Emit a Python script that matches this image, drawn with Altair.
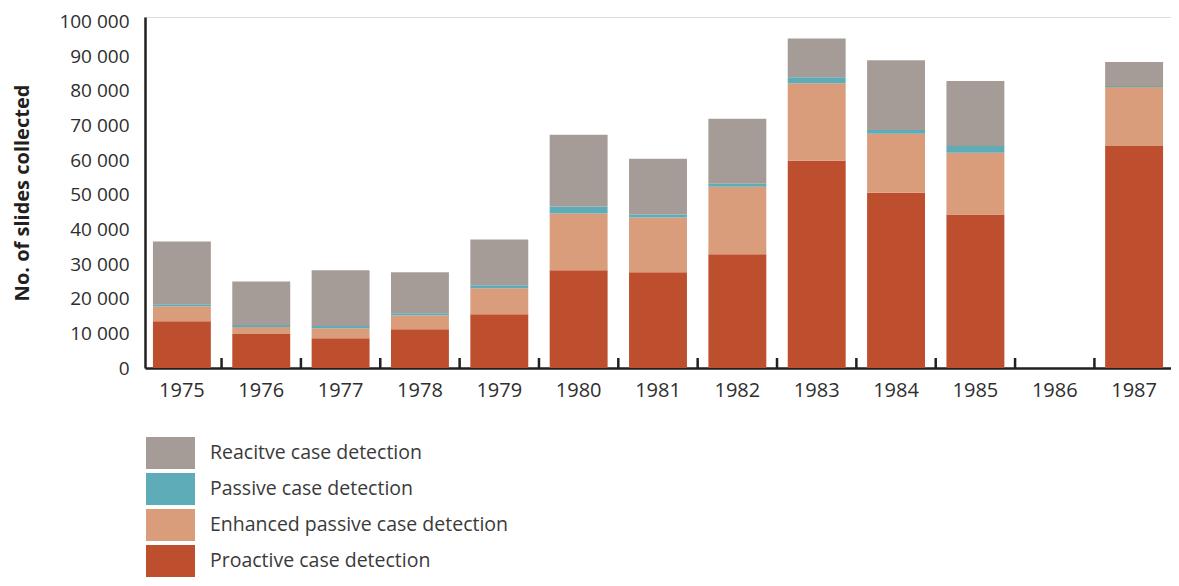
import altair as alt
import pandas as pd

years = ["1975", "1976", "1977", "1978", "1979", "1980", "1981", "1982",
         "1983", "1984", "1985", "1986", "1987"]
proactive = [13500, 9800, 8600, 11200, 15500, 28200, 27600, 32800, 59800, 50600, 44300, 0, 64100]
enhanced = [4300, 2000, 2900, 4000, 7500, 16400, 15800, 19500, 22400, 17000, 17800, 0, 17000]
passive = [600, 600, 600, 600, 900, 2000, 900, 900, 1700, 1100, 2000, 0, 300]
reactive = [18100, 12600, 16100, 11800, 13200, 20700, 16100, 18700, 11200, 20100, 18700, 0, 6900]

categories = ["Reacitve case detection", "Passive case detection",
              "Enhanced passive case detection", "Proactive case detection"]
colors = ["#a69c97", "#5eacb7", "#da9d7c", "#be4f2e"]
y_ticks = [0, 10000, 20000, 30000, 40000, 50000, 60000, 70000, 80000, 90000, 100000]

series = {
    categories[3]: proactive,
    categories[2]: enhanced,
    categories[1]: passive,
    categories[0]: reactive,
}
stack_order = {categories[3]: 0, categories[2]: 1, categories[1]: 2, categories[0]: 3}

rows = []
for cat, vals in series.items():
    for yr, v in zip(years, vals):
        rows.append({"year": yr, "cat": cat, "value": v, "ord": stack_order[cat]})
df = pd.DataFrame(rows)

AXIS_COLOR = "#231f20"
TEXT_COLOR = "#2e2e2e"
LEGEND_TEXT = "#3a3a3a"
FONT = "Open Sans"

PLOT_H = 351
x_scale = alt.Scale(paddingInner=0.27, paddingOuter=0.1)

bars = alt.Chart(df).mark_bar().encode(
    x=alt.X("year:N", sort=years, scale=x_scale,
            axis=alt.Axis(title=None, labelAngle=0, ticks=False, tickSize=0,
                          domainColor=AXIS_COLOR, domainWidth=2.5,
                          labelFontSize=20, labelColor=TEXT_COLOR, labelFont=FONT,
                          labelPadding=12)),
    y=alt.Y("value:Q", stack="zero",
            scale=alt.Scale(domain=[0, 101300], nice=False, zero=True),
            axis=alt.Axis(title="No. of slides collected", values=y_ticks,
                          labelExpr="datum.value == 0 ? '0' : format(datum.value / 1000, 'd') + ' 000'",
                          grid=False, ticks=False, tickSize=0,
                          domainColor=AXIS_COLOR, domainWidth=2.5,
                          labelFontSize=19, labelColor=TEXT_COLOR, labelFont=FONT,
                          labelPadding=16,
                          titleFont=FONT, titleFontSize=20, titleFontWeight="bold",
                          titleColor=AXIS_COLOR, titlePadding=26)),
    color=alt.Color("cat:N", title=None,
                    scale=alt.Scale(domain=categories, range=colors),
                    legend=alt.Legend(orient="none", legendX=1, legendY=420,
                                      padding=0, clipHeight=32, rowPadding=4,
                                      symbolType="M-1,-0.653L1,-0.653L1,0.653L-1,0.653Z",
                                      symbolSize=2401, symbolStrokeWidth=0,
                                      symbolOpacity=1, labelOffset=15,
                                      labelFontSize=19.5, labelFont=FONT,
                                      labelColor=LEGEND_TEXT, labelLimit=600)),
    order=alt.Order("ord:Q", sort="ascending"),
)

tick_df = pd.DataFrame({"year": years})
ticks = alt.Chart(tick_df).mark_rule(color=AXIS_COLOR, strokeWidth=2.5, xOffset=10.7).encode(
    x=alt.X("year:N", sort=years, bandPosition=1),
    y=alt.value(PLOT_H - 10),
    y2=alt.value(PLOT_H),
)

chart = alt.layer(bars, ticks).properties(
    width=1026, height=PLOT_H,
    autosize="none",
    padding={"left": 137, "top": 9, "right": 0, "bottom": 210},
).configure_view(stroke=None).configure(font=FONT, background="white")

chart.save("out.html", embed_options={"renderer": "svg", "actions": False})
